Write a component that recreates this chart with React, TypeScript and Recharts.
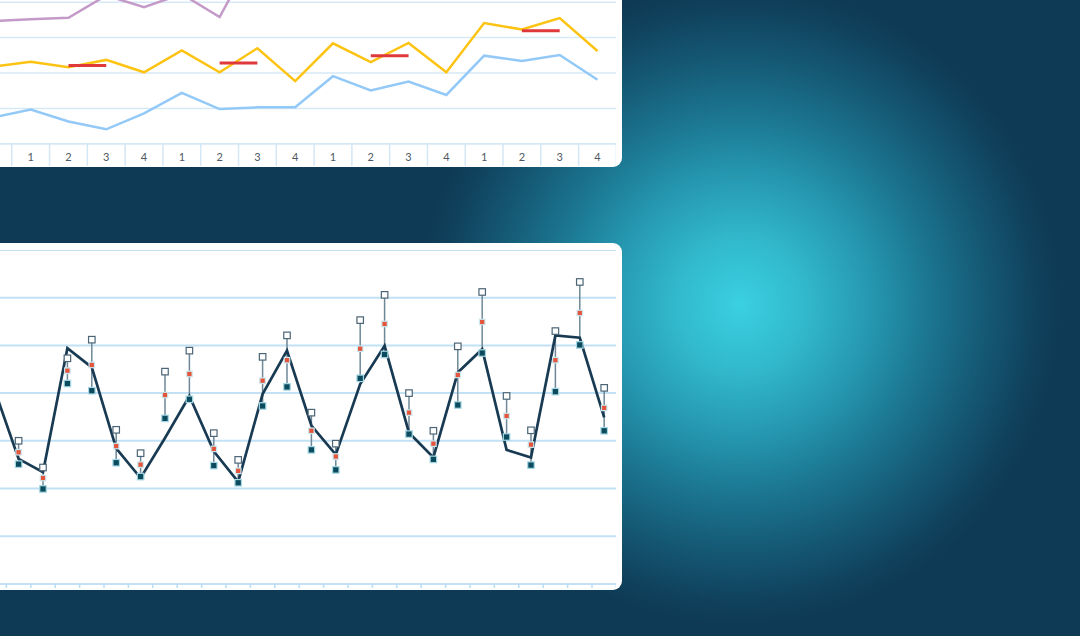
import React from 'react'
import { ComposedChart, Line, XAxis, YAxis, CartesianGrid, ErrorBar } from 'recharts'

// top chart: quarters, first one sits just off the left edge
const TOP_LABELS = ['4', '1', '2', '3', '4', '1', '2', '3', '4', '1', '2', '3', '4', '1', '2', '3', '4']
const PURPLE = [34.7, 35.2, 35.6, 41.9, 38.6, 42.3, 35.8, 55.5, 52, 58, 55, 60, 54, 62, 60, 64, 58]
const YELLOW = [21.8, 23.2, 21.6, 23.7, 20.2, 26.4, 20.2, 27.0, 17.7, 28.4, 23.1, 28.5, 20.2, 34.1, 32.3, 35.5, 26.2]
const BLUE = [7.4, 9.7, 6.3, 4.1, 8.6, 14.4, 9.8, 10.3, 10.3, 19.1, 15.1, 17.6, 13.8, 24.9, 23.4, 25.1, 18.1]
const TARGET = [null, null, 22.1, 22.1, null, null, 22.8, 22.8, null, null, 24.9, 24.9, null, null, 31.9, 31.9, null]
const TOP_TICKS = [0, 10, 20, 30, 40, 50, 60, 70]

// bottom chart: main line + range (low / mid / high) per period
const MAIN = [40.9, 26.2, 23.4, 49.4, 45.4, 28.4, 22.2, 30.6, 39.4, 27.8, 21.4, 39.8, 48.9, 33.2, 27.1, 41.9, 49.9, 31.7, 26.5, 44.3, 49.2, 28.1, 26.5, 52.1, 51.6, 34.9]
const HIGH = [null, 30.0, 24.4, 47.3, 51.2, 32.3, 27.4, 44.5, 48.9, 31.6, 26.0, 47.6, 52.1, 35.9, 29.4, 55.3, 60.6, 40.0, 32.1, 49.8, 61.2, 39.4, 32.2, 53.0, 63.3, 41.1]
const MID = [null, 27.6, 22.2, 44.7, 45.9, 28.9, 25.0, 39.6, 44.0, 28.3, 23.7, 42.6, 46.9, 32.1, 26.7, 49.3, 54.5, 35.9, 29.4, 43.8, 54.9, 35.2, 29.2, 46.9, 56.8, 36.9]
const LOW = [null, 25.1, 19.9, 42.0, 40.5, 25.4, 22.5, 34.7, 38.7, 24.8, 21.2, 37.3, 41.3, 28.1, 23.9, 43.1, 48.1, 31.4, 26.1, 37.5, 48.4, 30.8, 24.9, 40.3, 50.1, 32.1]
const BOTTOM_TICKS = [0, 10, 20, 30, 40, 50, 60, 70]

const TOP_W = 642.4
const TOP_H = 271.8
const TOP_HALF = TOP_W / TOP_LABELS.length / 2

const BOT_W = 634.4
const BOT_H = 341.9

const topData = TOP_LABELS.map((q, i) => ({
  i,
  q,
  purple: PURPLE[i],
  yellow: YELLOW[i],
  blue: BLUE[i],
  target: TARGET[i],
}))

const botData = MAIN.map((v, i) => ({
  i,
  main: v,
  high: HIGH[i],
  mid: MID[i],
  low: LOW[i],
  err: MID[i] == null ? null : [MID[i]! - LOW[i]!, HIGH[i]! - MID[i]!],
}))

const bandEdges = Array.from({ length: MAIN.length + 1 }, (_, k) => k - 0.5)

function BandTick(props: any) {
  const { x, y, payload, index } = props
  const last = index === TOP_LABELS.length - 1
  // first band is cut by the card edge, its label is hidden there
  const showLabel = index > 0
  return (
    <g>
      <line x1={x - TOP_HALF} x2={x - TOP_HALF} y1={y} y2={y + 22} stroke="#d3e7f5" strokeWidth={1.5} />
      {last && <line x1={x + TOP_HALF} x2={x + TOP_HALF} y1={y} y2={y + 22} stroke="#d3e7f5" strokeWidth={1.5} />}
      {showLabel && (
        <text x={x} y={y + 17.5} textAnchor="middle" fontSize={11} fill="#4f5862" fontFamily="Lato, sans-serif">
          {TOP_LABELS[payload.value]}
        </text>
      )}
    </g>
  )
}

const square = (size: number, fill: string, stroke: string, sw: number) => (p: any) => {
  if (p.cx == null || p.cy == null || p.value == null) return <g key={p.index} />
  return (
    <rect
      key={p.index}
      x={p.cx - size / 2}
      y={p.cy - size / 2}
      width={size}
      height={size}
      fill={fill}
      stroke={stroke}
      strokeWidth={sw}
    />
  )
}

export default function App() {
  return (
    <div
      style={{
        position: 'absolute',
        left: 0,
        top: 0,
        width: 1080,
        height: 636,
        overflow: 'hidden',
        background:
          'radial-gradient(circle 320px at 740px 305px, #3ad0e2 0%, #32b9cd 20%, #2699b1 40%, #1c7893 58%, #155a76 76%, #10425d 92%, #0e3a55 100%), #0e3a55',
      }}
    >
      <div
        style={{
          position: 'absolute',
          left: -20,
          top: -20,
          width: 642,
          height: 187,
          background: '#fff',
          borderRadius: '0 0 9px 0',
          overflow: 'hidden',
        }}
      >
        <div style={{ position: 'absolute', left: -6.4, top: -84.5 }}>
          <ComposedChart width={TOP_W} height={TOP_H} data={topData} margin={{ top: 0, right: 0, bottom: 0, left: 0 }}>
            <CartesianGrid vertical={false} stroke="#d6e9f6" strokeWidth={1.5} />
            <XAxis
              dataKey="i"
              type="number"
              domain={[-0.5, TOP_LABELS.length - 0.5]}
              ticks={topData.map((d) => d.i)}
              interval={0}
              height={24}
              tickSize={0}
              tickMargin={0}
              tickLine={false}
              axisLine={{ stroke: '#d3e7f5', strokeWidth: 1.5 }}
              tick={<BandTick />}
            />
            <YAxis hide domain={[0, 70]} ticks={TOP_TICKS} allowDataOverflow />
            <Line dataKey="purple" type="linear" stroke="#c49bc8" strokeWidth={2.5} dot={false} isAnimationActive={false} />
            <Line dataKey="blue" type="linear" stroke="#93c9f7" strokeWidth={2.5} dot={false} isAnimationActive={false} />
            <Line dataKey="yellow" type="linear" stroke="#fdc313" strokeWidth={2.5} dot={false} isAnimationActive={false} />
            <Line dataKey="target" type="linear" stroke="#e0393b" strokeWidth={3} dot={false} isAnimationActive={false} />
          </ComposedChart>
        </div>
      </div>

      <div
        style={{
          position: 'absolute',
          left: -20,
          top: 243,
          width: 642,
          height: 347,
          background: '#fff',
          borderRadius: '0 9px 9px 0',
          overflow: 'hidden',
        }}
      >
        <div style={{ position: 'absolute', left: 2, top: 6.5 }}>
          <ComposedChart width={BOT_W} height={BOT_H} data={botData} margin={{ top: 0, right: 0, bottom: 0, left: 0 }}>
            <CartesianGrid vertical={false} stroke="#c2e1f5" strokeWidth={2} />
            <XAxis
              dataKey="i"
              type="number"
              domain={[-0.5, MAIN.length - 0.5]}
              ticks={bandEdges}
              interval={0}
              height={8}
              tickFormatter={() => ''}
              tickSize={4}
              tickLine={{ stroke: '#b9ddf3', strokeWidth: 1.5 }}
              axisLine={{ stroke: '#c2e1f5', strokeWidth: 2 }}
            />
            <YAxis hide domain={[0, 70]} ticks={BOTTOM_TICKS} />
            <Line dataKey="mid" type="linear" stroke="none" dot={false} isAnimationActive={false}>
              <ErrorBar dataKey="err" width={0} stroke="#6e8898" strokeWidth={1.5} direction="y" isAnimationActive={false} />
            </Line>
            <Line dataKey="main" type="linear" stroke="#183a52" strokeWidth={2.7} dot={false} isAnimationActive={false} />
            <Line dataKey="high" type="linear" stroke="none" dot={square(6.5, '#ffffff', '#4c6576', 1.2)} isAnimationActive={false} />
            <Line dataKey="mid" type="linear" stroke="none" dot={square(5.5, '#e5553b', '#cbe8f0', 1.2)} isAnimationActive={false} />
            <Line dataKey="low" type="linear" stroke="none" dot={square(6.5, '#0c4b5e', '#a6d9e5', 1.2)} isAnimationActive={false} />
          </ComposedChart>
        </div>
      </div>
    </div>
  )
}
